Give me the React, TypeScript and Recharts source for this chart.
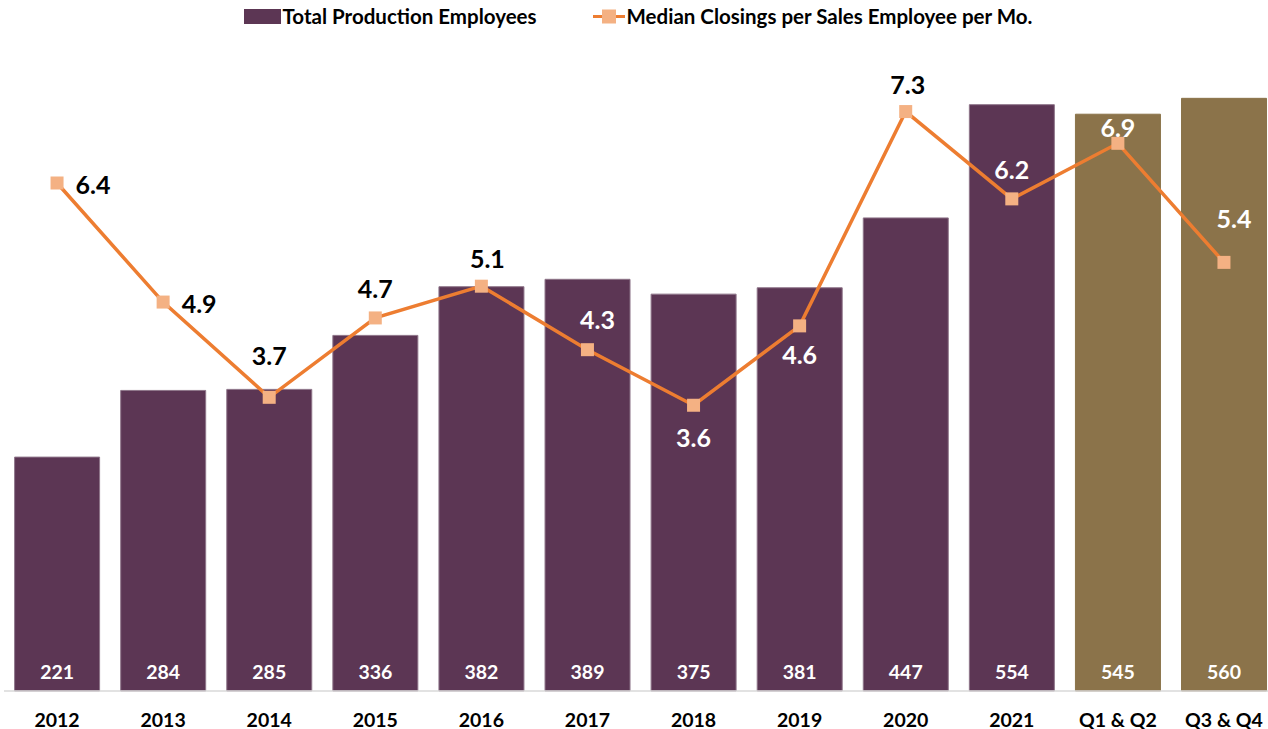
import React from 'react';
import {
  ComposedChart,
  Bar,
  Line,
  XAxis,
  YAxis,
  Legend,
  Cell,
  LabelList,
} from 'recharts';

// values
const periods = ['2012', '2013', '2014', '2015', '2016', '2017', '2018', '2019', '2020', '2021', 'Q1 & Q2', 'Q3 & Q4'];
const productionEmployees = [221, 284, 285, 336, 382, 389, 375, 381, 447, 554, 545, 560];
const medianClosings = [6.4, 4.9, 3.7, 4.7, 5.1, 4.3, 3.6, 4.6, 7.3, 6.2, 6.9, 5.4];

const PURPLE = '#5C3654';
const GOLD = '#8B734A';
const ORANGE = '#ED7D31';
const MARKER = '#F4B183';
const FONT = 'Lato, "Open Sans", sans-serif';

/** Where each line label sits relative to its point, and its colour. */
const labelSpots: Array<{ dx: number; dy: number; fill: string }> = [
  { dx: 36, dy: 1, fill: '#000' },
  { dx: 36, dy: 1, fill: '#000' },
  { dx: 0, dy: -42, fill: '#000' },
  { dx: 0, dy: -30, fill: '#000' },
  { dx: 6, dy: -28, fill: '#000' },
  { dx: 10, dy: -31, fill: '#fff' },
  { dx: 0, dy: 32, fill: '#fff' },
  { dx: 0, dy: 28, fill: '#fff' },
  { dx: 2, dy: -28, fill: '#000' },
  { dx: 0, dy: -30, fill: '#fff' },
  { dx: 0, dy: -16, fill: '#fff' },
  { dx: 10, dy: -44, fill: '#fff' },
];

const data = periods.map((p, i) => ({
  period: p,
  employees: productionEmployees[i],
  closings: medianClosings[i],
}));

/** Square marker for the line series. */
function SquareDot(props: any) {
  const { cx, cy } = props;
  if (cx == null || cy == null) return null;
  return <rect x={cx - 6.5} y={cy - 6.5} width={13} height={13} fill={MARKER} />;
}

function LineLabel(props: any) {
  const { x, y, value, index } = props;
  const spot = labelSpots[index] ?? { dx: 0, dy: -28, fill: '#000' };
  return (
    <text
      x={x + spot.dx}
      y={y + spot.dy}
      textAnchor="middle"
      dominantBaseline="central"
      fontFamily={FONT}
      fontWeight={700}
      fontSize={25}
      fill={spot.fill}
    >
      {Number(value).toFixed(1)}
    </text>
  );
}

function BarLabel(props: any) {
  const { x, y, width, height, value } = props;
  return (
    <text
      x={x + width / 2}
      y={y + height - 20}
      textAnchor="middle"
      dominantBaseline="central"
      fontFamily={FONT}
      fontWeight={700}
      fontSize={19.5}
      fill="#fff"
    >
      {value}
    </text>
  );
}

function PeriodTick(props: any) {
  const { x, y, payload } = props;
  return (
    <text
      x={x}
      y={y + 28}
      textAnchor="middle"
      dominantBaseline="central"
      fontFamily={FONT}
      fontWeight={700}
      fontSize={19.5}
      fill="#000"
    >
      {payload.value}
    </text>
  );
}

function TopLegend() {
  return (
    <div
      style={{
        display: 'flex',
        justifyContent: 'center',
        alignItems: 'center',
        gap: 56,
        fontFamily: FONT,
        fontWeight: 700,
        fontSize: 20.5,
        color: '#000',
        marginLeft: 8,
      }}
    >
      <div style={{ display: 'flex', alignItems: 'center' }}>
        <span style={{ display: 'inline-block', width: 37, height: 15, background: PURPLE, marginRight: 2 }} />
        Total Production Employees
      </div>
      <div style={{ display: 'flex', alignItems: 'center' }}>
        <svg width={32} height={15} style={{ marginRight: 2 }}>
          <line x1={0} y1={7.5} x2={32} y2={7.5} stroke={ORANGE} strokeWidth={3} />
          <rect x={9} y={0.5} width={14} height={14} fill={MARKER} />
        </svg>
        Median Closings per Sales Employee per Mo.
      </div>
    </div>
  );
}

export default function App() {
  return (
    <div
      style={{
        position: 'absolute',
        left: 0,
        top: 0,
        width: 1268,
        height: 729,
        overflow: 'hidden',
        background: '#fff',
      }}
    >
      <ComposedChart
        width={1290}
        height={729}
        data={data}
        margin={{ top: 32, right: 13, bottom: 0, left: 4 }}
        barCategoryGap="10%"
      >
        <XAxis
          dataKey="period"
          height={38}
          tick={<PeriodTick />}
          tickLine={false}
          tickSize={0}
          tickMargin={0}
          axisLine={{ stroke: '#D9D9D9', strokeWidth: 1.5 }}
          interval={0}
        />
        <YAxis yAxisId="left" domain={[0, 600]} hide />
        <YAxis yAxisId="right" orientation="right" domain={[0, 8]} hide />
        <Legend verticalAlign="top" wrapperStyle={{ top: 4, left: 0, width: 1268 }} content={<TopLegend />} />
        <Bar
          yAxisId="left"
          dataKey="employees"
          name="Total Production Employees"
          fill={PURPLE}
          strokeWidth={1}
          isAnimationActive={false}
        >
          {data.map((d) => (
            <Cell
              key={d.period}
              fill={d.period.startsWith('Q') ? GOLD : PURPLE}
              stroke={d.period.startsWith('Q') ? GOLD : '#8E7589'}
            />
          ))}
          <LabelList dataKey="employees" content={<BarLabel />} />
        </Bar>
        <Line
          yAxisId="right"
          dataKey="closings"
          name="Median Closings per Sales Employee per Mo."
          stroke={ORANGE}
          strokeWidth={3.5}
          dot={<SquareDot />}
          activeDot={false}
          isAnimationActive={false}
        >
          <LabelList dataKey="closings" content={<LineLabel />} />
        </Line>
      </ComposedChart>
    </div>
  );
}
